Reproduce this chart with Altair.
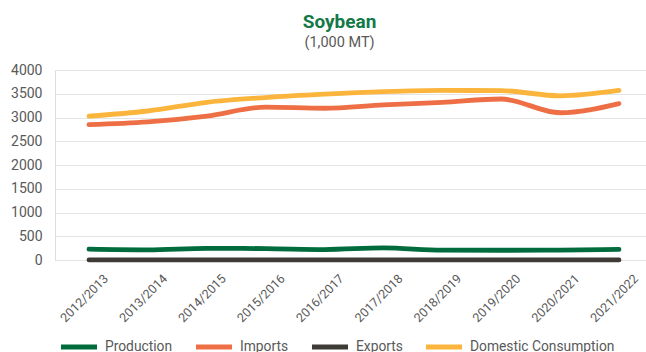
import altair as alt
import pandas as pd

years = ["2012/2013", "2013/2014", "2014/2015", "2015/2016", "2016/2017",
         "2017/2018", "2018/2019", "2019/2020", "2020/2021", "2021/2022"]
production = [228, 214, 245, 240, 220, 255, 207, 205, 210, 222]
imports = [2850, 2908, 3030, 3220, 3195, 3265, 3320, 3390, 3100, 3293]
exports = [2, 2, 2, 2, 2, 2, 2, 2, 2, 2]
domestic = [3030, 3137, 3320, 3420, 3490, 3543, 3570, 3564, 3457, 3570]

series = ["Production", "Imports", "Exports", "Domestic Consumption"]
colors = ["#006B3C", "#EE6F45", "#3E3A36", "#FBB53C"]

rows = []
for name, vals in zip(series, [production, imports, exports, domestic]):
    for i, (yr, v) in enumerate(zip(years, vals)):
        rows.append({"Year": yr, "Series": name, "Value": v, "order": series.index(name)})
df = pd.DataFrame(rows)

grey = "#595959"
font = "Roboto"

chart = alt.Chart(df).mark_line(
    strokeWidth=4.8, interpolate="monotone", strokeCap="round", strokeJoin="round"
).encode(
    x=alt.X("Year:N", sort=years, title=None,
            scale=alt.Scale(type="point", padding=0.518, align=0.557),
            axis=alt.Axis(labelAngle=-45, labelAlign="center", labelBaseline="middle",
                          labelPadding=38, labelOffset=-5, labelFontSize=12.5,
                          labelColor=grey, labelFont=font, domain=False, ticks=False,
                          grid=False)),
    y=alt.Y("Value:Q", title=None,
            scale=alt.Scale(domain=[0, 4000], nice=False),
            axis=alt.Axis(values=[0, 500, 1000, 1500, 2000, 2500, 3000, 3500, 4000],
                          format="d",
                          labelFontSize=14, labelColor=grey, labelFont=font,
                          labelPadding=13, domain=False, ticks=False,
                          gridColor="#E4E4E4", gridWidth=1)),
    color=alt.Color("Series:N", sort=series,
                    scale=alt.Scale(domain=series, range=colors),
                    legend=alt.Legend(title=None, orient="none", direction="horizontal",
                                      legendX=3, legendY=256,
                                      symbolType="stroke", symbolSize=1300,
                                      symbolStrokeWidth=5, labelFontSize=13.8,
                                      labelColor=grey, labelFont=font,
                                      labelOffset=5, columnPadding=12)),
    order=alt.Order("order:Q"),
    detail="Series:N",
).properties(
    width=591,
    height=190,
    padding={"left": 55, "top": 70, "right": 0, "bottom": 92},
    autosize="none",
    title=alt.TitleParams(
        text="Soybean", subtitle="(1,000 MT)", anchor="middle", dx=-11,
        font=font, fontSize=19, fontWeight="bold", color="#137A47",
        subtitleFont=font, subtitleFontSize=14.5, subtitleColor=grey,
        subtitlePadding=4, offset=14,
    ),
).configure_view(stroke=None).configure(background="white")

chart.save("out.html", embed_options={"renderer": "svg", "actions": False})
